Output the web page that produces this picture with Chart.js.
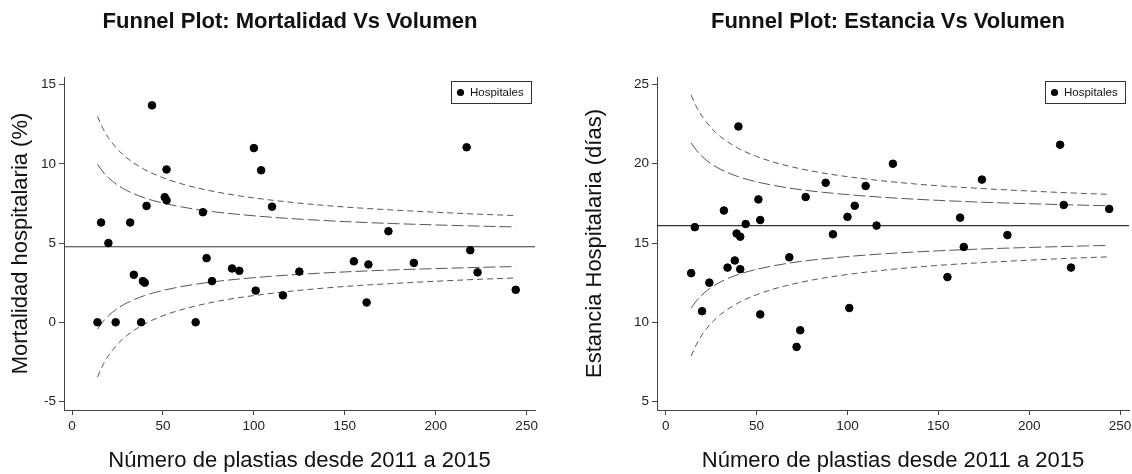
<!DOCTYPE html>
<html lang="es">
<head>
<meta charset="utf-8">
<title>Funnel plots</title>
<script src="https://cdn.jsdelivr.net/npm/chart.js@4.4.1/dist/chart.umd.min.js"></script>
<style>
    html, body { margin: 0; padding: 0; background: #fff; width: 1132px; height: 474px; overflow: hidden; }
    .panel { position: absolute; top: 0; height: 474px; }
    #panelMort { left: 0; width: 580px; }
    #panelEst { left: 566px; width: 644px; }
</style>
</head>
<body>
<div class="panel" id="panelMort"><canvas id="grafMort"></canvas></div>
<div class="panel" id="panelEst"><canvas id="grafEst"></canvas></div>
<script>
// Datos
const volMort = [14, 16, 20, 24, 32, 34, 38, 39, 40, 41, 44, 51, 52, 52, 68, 72, 74, 77, 88, 92,
    100, 101, 104, 110, 116, 125, 155, 162, 163, 174, 188, 217, 219, 223, 244];
const mortalidad = [0, 6.3, 5.0, 0, 6.3, 3.0, 0, 2.6, 2.5, 7.35, 13.7, 7.9, 7.7, 9.65, 0, 6.95, 4.05, 2.6, 3.4, 3.25,
    11.0, 2.0, 9.6, 7.3, 1.7, 3.2, 3.85, 1.25, 3.65, 5.75, 3.75, 11.05, 4.55, 3.15, 2.05];

const volEst = [14, 16, 20, 24, 32, 34, 38, 39, 40, 41, 41, 44, 51, 52, 52, 68, 72, 74, 77, 88, 92,
    100, 101, 104, 110, 116, 125, 155, 162, 164, 174, 188, 217, 219, 223, 244];
const estancia = [13.1, 16.0, 10.7, 12.5, 17.05, 13.45, 13.9, 15.6, 22.35, 15.4, 13.35, 16.2, 17.75, 16.45, 10.5, 14.1, 8.45, 9.5, 17.9, 18.8, 15.55,
    16.65, 10.9, 17.35, 18.6, 16.1, 20.0, 12.85, 16.6, 14.75, 19.0, 15.5, 21.2, 17.4, 13.45, 17.15];

const mediaMort = 4.77;
const mediaEst = 16.1;

const volLimites = [14, 17, 20, 25, 30, 40, 50, 60, 75, 90, 110, 130, 150, 175, 200, 225, 244];
const mortSupExt = [13.0, 12.24, 11.66, 10.93, 10.39, 9.64, 9.13, 8.75, 8.33, 8.02, 7.71, 7.47, 7.28, 7.10, 6.95, 6.82, 6.74];
const mortSupInt = [9.98, 9.50, 9.13, 8.67, 8.33, 7.85, 7.53, 7.29, 7.02, 6.83, 6.63, 6.48, 6.36, 6.24, 6.15, 6.07, 6.02];
const mortInfInt = [-0.44, 0.04, 0.41, 0.87, 1.21, 1.69, 2.01, 2.25, 2.52, 2.71, 2.91, 3.06, 3.18, 3.30, 3.39, 3.47, 3.52];
const mortInfExt = [-3.46, -2.70, -2.12, -1.39, -0.85, -0.10, 0.41, 0.79, 1.21, 1.52, 1.83, 2.07, 2.26, 2.44, 2.59, 2.72, 2.80];

const estSupExt = [24.33, 23.57, 22.99, 22.26, 21.72, 20.97, 20.46, 20.08, 19.66, 19.35, 19.04, 18.80, 18.61, 18.43, 18.28, 18.15, 18.07];
const estSupInt = [21.31, 20.83, 20.46, 20.0, 19.66, 19.18, 18.86, 18.62, 18.35, 18.16, 17.96, 17.81, 17.69, 17.57, 17.48, 17.40, 17.35];
const estInfInt = [10.89, 11.37, 11.74, 12.20, 12.54, 13.02, 13.34, 13.58, 13.85, 14.04, 14.24, 14.39, 14.51, 14.63, 14.72, 14.80, 14.85];
const estInfExt = [7.87, 8.63, 9.21, 9.94, 10.48, 11.23, 11.74, 12.12, 12.54, 12.85, 13.16, 13.40, 13.59, 13.77, 13.92, 14.05, 14.13];

const ticksX = [0, 50, 100, 150, 200, 250];
const ticksMort = [-5, 0, 5, 10, 15];
const ticksEst = [5, 10, 15, 20, 25];

const fuente = '"Liberation Sans", Arial, Helvetica, sans-serif';
const colorEje = '#444';

const aPuntos = (xs, ys) => xs.map((x, i) => ({ x: x, y: ys[i] }));

// caja de leyenda dentro del area del grafico, arriba a la derecha
const leyendaCaja = {
    id: 'leyendaCaja',
    afterDatasetsDraw(chart) {
        const { ctx, chartArea } = chart;
        const texto = 'Hospitales';
        ctx.save();
        ctx.font = '11.5px ' + fuente;
        const ancho = Math.round(ctx.measureText(texto).width + 26);
        const alto = 22;
        const x0 = Math.round(chartArea.right - 4 - ancho);
        const y0 = Math.round(chartArea.top + 4);
        ctx.fillStyle = '#fff';
        ctx.fillRect(x0, y0, ancho, alto);
        ctx.strokeStyle = '#333';
        ctx.lineWidth = 1;
        ctx.strokeRect(x0 + 0.5, y0 + 0.5, ancho, alto);
        ctx.fillStyle = '#000';
        ctx.beginPath();
        ctx.arc(x0 + 9.5, y0 + alto / 2 + 0.5, 3.6, 0, Math.PI * 2);
        ctx.fill();
        ctx.fillStyle = '#111';
        ctx.textBaseline = 'middle';
        ctx.fillText(texto, x0 + 19, y0 + alto / 2 + 1);
        ctx.restore();
    }
};

const lineaLimite = (xs, ys, guiones) => ({
    type: 'scatter',
    data: aPuntos(xs, ys),
    showLine: true,
    borderColor: '#555',
    borderWidth: 1,
    borderDash: guiones,
    pointRadius: 0,
    tension: 0.4,
    cubicInterpolationMode: 'monotone',
    fill: false,
    order: 2
});

const crearFunnel = (canvasId, op) => {
    const datasets = [
        {
            label: 'Hospitales',
            data: aPuntos(op.vol, op.valores),
            backgroundColor: '#000',
            borderColor: '#000',
            pointRadius: 3.8,
            pointHoverRadius: 3.8,
            order: 0
        },
        {
            label: 'Media',
            data: [{ x: op.xMin, y: op.media }, { x: op.xMax, y: op.media }],
            showLine: true,
            borderColor: '#333',
            borderWidth: 1.2,
            pointRadius: 0,
            order: 1
        },
        lineaLimite(volLimites, op.supExt, [6, 4]),
        lineaLimite(volLimites, op.supInt, [12, 4]),
        lineaLimite(volLimites, op.infInt, [12, 4]),
        lineaLimite(volLimites, op.infExt, [6, 4])
    ];

    new Chart(document.getElementById(canvasId), {
        type: 'scatter',
        data: { datasets: datasets },
        options: {
            responsive: true,
            maintainAspectRatio: false,
            animation: false,
            layout: { padding: 0 },
            scales: {
                x: {
                    type: 'linear',
                    min: op.xMin,
                    max: op.xMax,
                    afterBuildTicks: s => { s.ticks = ticksX.map(v => ({ value: v })); },
                    afterFit: s => { s.height = 64; },
                    grid: { display: true, drawOnChartArea: false, drawTicks: true, tickLength: 5, color: colorEje },
                    border: { display: true, color: colorEje, width: 1 },
                    ticks: { color: '#222', font: { family: fuente, size: 13.5 }, padding: 3, maxRotation: 0 },
                    title: {
                        display: true,
                        text: 'Número de plastias desde 2011 a 2015',
                        color: '#111',
                        font: { family: fuente, size: 22 },
                        padding: { top: 0, bottom: 0 }
                    }
                },
                y: {
                    type: 'linear',
                    position: 'left',
                    min: op.yMin,
                    max: op.yMax,
                    afterBuildTicks: s => { s.ticks = op.ticksY.map(v => ({ value: v })); },
                    afterFit: s => { s.width = op.anchoIzq; },
                    grid: { display: true, drawOnChartArea: false, drawTicks: true, tickLength: 5, color: colorEje },
                    border: { display: true, color: colorEje, width: 1 },
                    ticks: { color: '#222', font: { family: fuente, size: 13.5 }, padding: 3 },
                    title: {
                        display: true,
                        text: op.tituloY,
                        color: '#111',
                        font: { family: fuente, size: 22 },
                        padding: { top: op.padTituloY, bottom: 0 }
                    }
                },
                margen: {
                    type: 'linear',
                    position: 'right',
                    display: true,
                    afterFit: s => { s.width = op.anchoDer; },
                    grid: { display: false },
                    border: { display: false },
                    ticks: { display: false }
                }
            },
            plugins: {
                legend: { display: false },
                tooltip: { enabled: false },
                title: {
                    display: true,
                    text: op.titulo,
                    color: '#111',
                    font: { family: fuente, size: 22, weight: 'bold' },
                    padding: { top: 9, bottom: 41.6 }
                }
            }
        },
        plugins: [leyendaCaja]
    });
};

document.addEventListener('DOMContentLoaded', () => {
    crearFunnel('grafMort', {
        titulo: 'Funnel Plot: Mortalidad Vs Volumen',
        tituloY: 'Mortalidad hospitalaria (%)',
        vol: volMort,
        valores: mortalidad,
        media: mediaMort,
        supExt: mortSupExt, supInt: mortSupInt, infInt: mortInfInt, infExt: mortInfExt,
        ticksY: ticksMort,
        xMin: -4.4, xMax: 254.6,
        yMin: -5.54, yMax: 15.49,
        anchoIzq: 64, anchoDer: 45, padTituloY: 8
    });

    crearFunnel('grafEst', {
        titulo: 'Funnel Plot: Estancia Vs Volumen',
        tituloY: 'Estancia Hospitalaria (días)',
        vol: volEst,
        valores: estancia,
        media: mediaEst,
        supExt: estSupExt, supInt: estSupInt, infInt: estInfInt, infExt: estInfExt,
        ticksY: ticksEst,
        xMin: -4.8, xMax: 254.9,
        yMin: 4.47, yMax: 25.47,
        anchoIzq: 91, anchoDer: 81, padTituloY: 16
    });
});
</script>
</body>
</html>
